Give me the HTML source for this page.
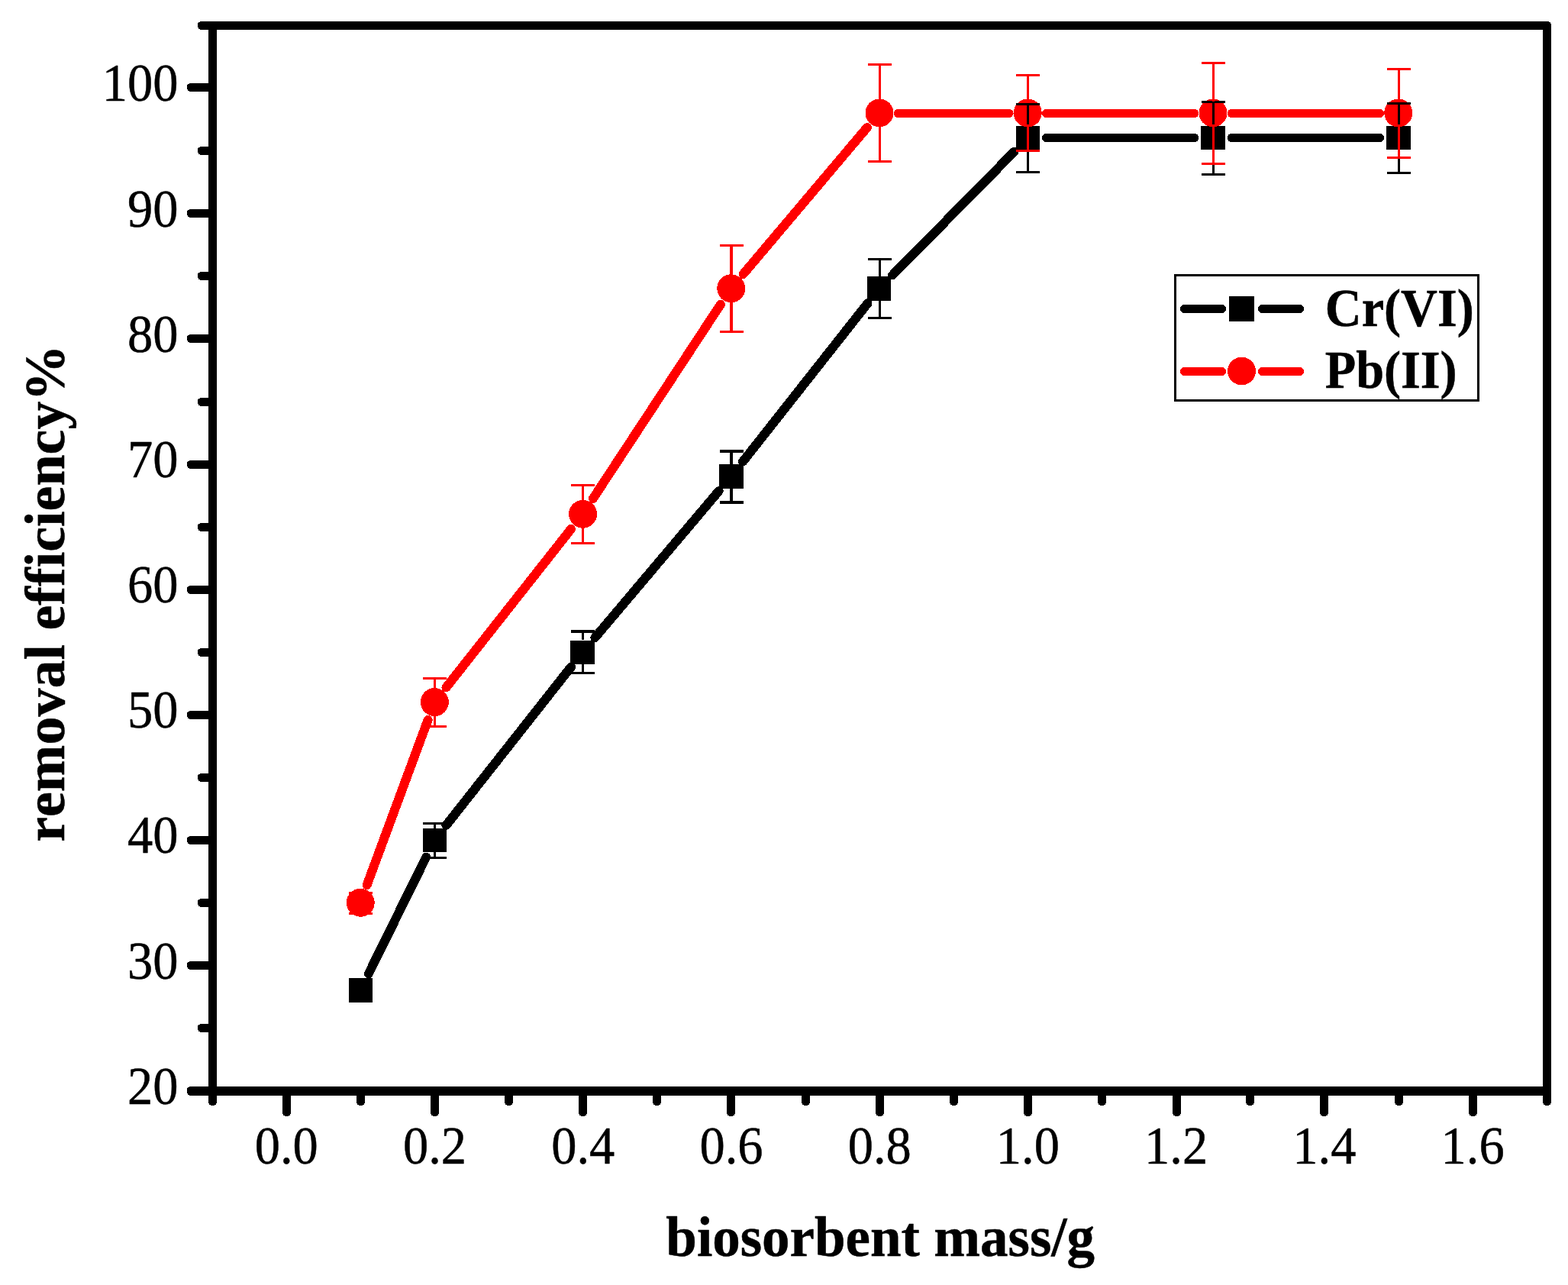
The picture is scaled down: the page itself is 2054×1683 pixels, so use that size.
<!DOCTYPE html>
<html lang="en"><head><meta charset="utf-8"><title>Removal efficiency vs biosorbent mass</title>
<style>html,body{margin:0;padding:0;background:#fff;}body{width:2054px;height:1683px;overflow:hidden;}svg{display:block;}text{font-family:"Liberation Serif",serif;fill:#000;stroke:#000;stroke-width:0.5px;stroke-linejoin:round;font-variant-ligatures:none;font-kerning:none;}</style>
</head><body>
<svg width="2054" height="1683" viewBox="0 0 2054 1683" shape-rendering="crispEdges" role="img" aria-label="Removal efficiency versus biosorbent mass for Cr(VI) and Pb(II)">
<rect x="0" y="0" width="2054" height="1683" fill="#fff"/>
<g id="frame" fill="#000" stroke="none">
<rect x="273" y="28" width="11" height="1420" rx="4.5"/>
<rect x="2021" y="28" width="11" height="1420" rx="4.5"/>
<rect x="259" y="28" width="1773" height="11" rx="4.5"/>
<rect x="245" y="1423" width="1787" height="12" rx="4.5"/>
<rect x="273" y="28" width="11" height="11"/>
<rect x="2021" y="1423" width="11" height="12"/>
</g>
<g id="ticks" fill="#000" stroke="none">
<rect x="245" y="1259" width="34" height="11" rx="4.5"/>
<rect x="245" y="1095" width="34" height="11" rx="4.5"/>
<rect x="245" y="931" width="34" height="11" rx="4.5"/>
<rect x="245" y="767" width="34" height="11" rx="4.5"/>
<rect x="245" y="603" width="34" height="11" rx="4.5"/>
<rect x="245" y="438" width="34" height="11" rx="4.5"/>
<rect x="245" y="274" width="34" height="11" rx="4.5"/>
<rect x="245" y="109" width="34" height="11" rx="4.5"/>
<rect x="259" y="1341" width="20" height="11" rx="4.5"/>
<rect x="259" y="1177" width="20" height="11" rx="4.5"/>
<rect x="259" y="1013" width="20" height="11" rx="4.5"/>
<rect x="259" y="849" width="20" height="11" rx="4.5"/>
<rect x="259" y="685" width="20" height="11" rx="4.5"/>
<rect x="259" y="521" width="20" height="11" rx="4.5"/>
<rect x="259" y="356" width="20" height="11" rx="4.5"/>
<rect x="259" y="192" width="20" height="11" rx="4.5"/>
<rect x="370" y="1428" width="11" height="34" rx="4.5"/>
<rect x="467" y="1428" width="11" height="20" rx="4.5"/>
<rect x="564" y="1428" width="11" height="34" rx="4.5"/>
<rect x="661" y="1428" width="11" height="20" rx="4.5"/>
<rect x="758" y="1428" width="11" height="34" rx="4.5"/>
<rect x="855" y="1428" width="11" height="20" rx="4.5"/>
<rect x="952" y="1428" width="11" height="34" rx="4.5"/>
<rect x="1050" y="1428" width="11" height="20" rx="4.5"/>
<rect x="1147" y="1428" width="11" height="34" rx="4.5"/>
<rect x="1244" y="1428" width="11" height="20" rx="4.5"/>
<rect x="1341" y="1428" width="11" height="34" rx="4.5"/>
<rect x="1438" y="1428" width="11" height="20" rx="4.5"/>
<rect x="1536" y="1428" width="11" height="34" rx="4.5"/>
<rect x="1632" y="1428" width="11" height="20" rx="4.5"/>
<rect x="1729" y="1428" width="11" height="34" rx="4.5"/>
<rect x="1827" y="1428" width="11" height="20" rx="4.5"/>
<rect x="1924" y="1428" width="11" height="34" rx="4.5"/>
</g>
<g id="ylabels" font-size="70" text-anchor="end">
<text transform="translate(233.6 1445.8) scale(0.95 1)">20</text>
<text transform="translate(233.6 1281.62) scale(0.95 1)">30</text>
<text transform="translate(233.6 1117.45) scale(0.95 1)">40</text>
<text transform="translate(233.6 953.27) scale(0.95 1)">50</text>
<text transform="translate(233.6 789.09) scale(0.95 1)">60</text>
<text transform="translate(233.6 624.92) scale(0.95 1)">70</text>
<text transform="translate(233.6 460.74) scale(0.95 1)">80</text>
<text transform="translate(233.6 296.56) scale(0.95 1)">90</text>
<text transform="translate(233.6 132.39) scale(0.95 1)">100</text>
</g>
<g id="xlabels" font-size="70" text-anchor="middle">
<text transform="translate(375.31 1523.6) scale(0.95 1)">0.0</text>
<text transform="translate(569.53 1523.6) scale(0.95 1)">0.2</text>
<text transform="translate(763.76 1523.6) scale(0.95 1)">0.4</text>
<text transform="translate(957.98 1523.6) scale(0.95 1)">0.6</text>
<text transform="translate(1152.2 1523.6) scale(0.95 1)">0.8</text>
<text transform="translate(1346.42 1523.6) scale(0.95 1)">1.0</text>
<text transform="translate(1540.64 1523.6) scale(0.95 1)">1.2</text>
<text transform="translate(1734.87 1523.6) scale(0.95 1)">1.4</text>
<text transform="translate(1929.09 1523.6) scale(0.95 1)">1.6</text>
</g>
<text id="xtitle" transform="translate(1153.2 1644.7) scale(1.0 1)" font-size="73" font-weight="bold" stroke-width="0.15" text-anchor="middle">biosorbent mass/g</text>
<text id="ytitle" transform="translate(84.2 777.2) rotate(-90) scale(1.0 1)" font-size="74" font-weight="bold" stroke-width="0.15" text-anchor="middle">removal efficiency%</text>
<g id="series-cr">
<g stroke="#000" stroke-linecap="round" fill="none">
<line x1="482.94" y1="1275.2" x2="558.21" y2="1122.5" stroke-width="12"/>
<line x1="584.43" y1="1080.95" x2="748.06" y2="873.48" stroke-width="12"/>
<line x1="779.3" y1="835.22" x2="941.64" y2="643.1" stroke-width="12"/>
<line x1="972.87" y1="604.84" x2="1136.5" y2="397.36" stroke-width="12"/>
<line x1="1169.14" y1="360.38" x2="1328.68" y2="198.55" stroke-width="12"/>
<line x1="1370.42" y1="180.5" x2="1564.8" y2="180.5" stroke-width="11"/>
<line x1="1613.2" y1="180.5" x2="1807.58" y2="180.5" stroke-width="11"/>
</g>
<g fill="#000">
<rect x="457" y="1281" width="31" height="32"/>
<rect x="554" y="1085" width="31" height="31"/>
<rect x="747" y="839" width="32" height="31"/>
<rect x="942" y="608" width="32" height="32"/>
<rect x="1136" y="362" width="31" height="32"/>
<rect x="1331" y="165" width="31" height="31"/>
<rect x="1573" y="165" width="32" height="31"/>
<rect x="1816" y="165" width="32" height="31"/>
</g></g>
<g id="series-pb">
<g stroke="#f00" stroke-linecap="round" fill="none">
<line x1="480.59" y1="1159.27" x2="560.57" y2="942.92" stroke-width="12"/>
<line x1="584.43" y1="900.36" x2="748.06" y2="692.88" stroke-width="12"/>
<line x1="776.92" y1="652.85" x2="944.01" y2="398.61" stroke-width="12"/>
<line x1="973.52" y1="359.1" x2="1135.86" y2="166.99" stroke-width="12"/>
<line x1="1176.2" y1="148.5" x2="1322.02" y2="148.5" stroke-width="11"/>
<line x1="1370.42" y1="148.5" x2="1564.8" y2="148.5" stroke-width="11"/>
<line x1="1613.2" y1="148.5" x2="1807.58" y2="148.5" stroke-width="11"/>
</g>
<g fill="#f00">
<circle cx="472.22" cy="1182.24" r="18.5"/>
<circle cx="569.33" cy="919.55" r="18.5"/>
<circle cx="763.56" cy="673.29" r="18.5"/>
<circle cx="957.78" cy="377.77" r="18.5"/>
<circle cx="1152" cy="147.92" r="18.5"/>
<circle cx="1346.22" cy="147.92" r="18.5"/>
<circle cx="1589" cy="147.92" r="18.5"/>
<circle cx="1831.78" cy="147.92" r="18.5"/>
</g></g>
<g id="errors">
<g fill="#000" stroke="none">
<rect x="554" y="1077" width="31" height="3"/>
<rect x="554" y="1122" width="31" height="3"/>
<rect x="568" y="1077" width="3" height="7.65"/>
<rect x="568" y="1115.65" width="3" height="9.35"/>
<rect x="748" y="825" width="31" height="4"/>
<rect x="748" y="880" width="31" height="3"/>
<rect x="762" y="825" width="3" height="13.38"/>
<rect x="762" y="869.38" width="3" height="13.62"/>
<rect x="943" y="589" width="31" height="4"/>
<rect x="943" y="656" width="31" height="4"/>
<rect x="956" y="589" width="4" height="19.54"/>
<rect x="956" y="639.54" width="4" height="20.46"/>
<rect x="1137" y="338" width="31" height="3"/>
<rect x="1137" y="415" width="31" height="3"/>
<rect x="1151" y="338" width="3" height="24.27"/>
<rect x="1151" y="393.27" width="3" height="24.73"/>
<rect x="1331" y="135" width="31" height="3"/>
<rect x="1331" y="224" width="31" height="3"/>
<rect x="1345" y="135" width="3" height="30.26"/>
<rect x="1345" y="196.26" width="3" height="30.74"/>
<rect x="1574" y="132" width="31" height="3"/>
<rect x="1574" y="227" width="31" height="3"/>
<rect x="1588" y="132" width="3" height="33.26"/>
<rect x="1588" y="196.26" width="3" height="33.74"/>
<rect x="1817" y="134" width="31" height="3"/>
<rect x="1817" y="225" width="31" height="3"/>
<rect x="1831" y="134" width="3" height="31.26"/>
<rect x="1831" y="196.26" width="3" height="31.74"/>
</g>
<g fill="#f00" stroke="none">
<rect x="457" y="1168" width="31" height="3"/>
<rect x="457" y="1195" width="31" height="3"/>
<rect x="471" y="1197.24" width="3" height="0.76"/>
<rect x="554" y="887" width="31" height="3"/>
<rect x="554" y="950" width="31" height="3"/>
<rect x="568" y="887" width="3" height="17.55"/>
<rect x="568" y="934.55" width="3" height="18.45"/>
<rect x="748" y="634" width="31" height="3"/>
<rect x="748" y="710" width="31" height="3"/>
<rect x="762" y="634" width="3" height="24.29"/>
<rect x="762" y="688.29" width="3" height="24.71"/>
<rect x="943" y="320" width="31" height="3"/>
<rect x="943" y="433" width="31" height="3"/>
<rect x="956" y="320" width="4" height="42.77"/>
<rect x="956" y="392.77" width="4" height="43.23"/>
<rect x="1137" y="83" width="31" height="3"/>
<rect x="1137" y="210" width="31" height="3"/>
<rect x="1151" y="83" width="3" height="49.92"/>
<rect x="1151" y="162.92" width="3" height="50.08"/>
<rect x="1331" y="97" width="31" height="3"/>
<rect x="1331" y="196" width="31" height="3"/>
<rect x="1345" y="97" width="3" height="35.92"/>
<rect x="1345" y="162.92" width="3" height="36.08"/>
<rect x="1574" y="81" width="31" height="3"/>
<rect x="1574" y="213" width="31" height="3"/>
<rect x="1588" y="81" width="3" height="51.92"/>
<rect x="1588" y="162.92" width="3" height="53.08"/>
<rect x="1817" y="89" width="31" height="3"/>
<rect x="1817" y="205" width="31" height="3"/>
<rect x="1831" y="89" width="3" height="43.92"/>
<rect x="1831" y="162.92" width="3" height="45.08"/>
</g>
</g>
<g id="legend">
<rect x="1539.5" y="360.5" width="397" height="164" fill="#fff" stroke="#000" stroke-width="3"/>
<g stroke-width="11" stroke-linecap="round" fill="none">
<path d="M1551.3 404.5H1600.6M1653.4 404.5H1702.6" stroke="#000"/>
<path d="M1551.3 486.5H1600.6M1653.4 486.5H1702.6" stroke="#f00"/>
</g>
<rect x="1610" y="388" width="33" height="33" fill="#000"/>
<circle cx="1626.5" cy="486" r="18.4" fill="#f00"/>
<text transform="translate(1735.8 426.9) scale(0.96 1)" font-size="69" font-weight="bold" stroke-width="0.15">Cr(VI)</text>
<text transform="translate(1735.7 507.8) scale(0.96 1)" font-size="69" font-weight="bold" stroke-width="0.15">Pb(II)</text>
</g>
</svg>
</body></html>
